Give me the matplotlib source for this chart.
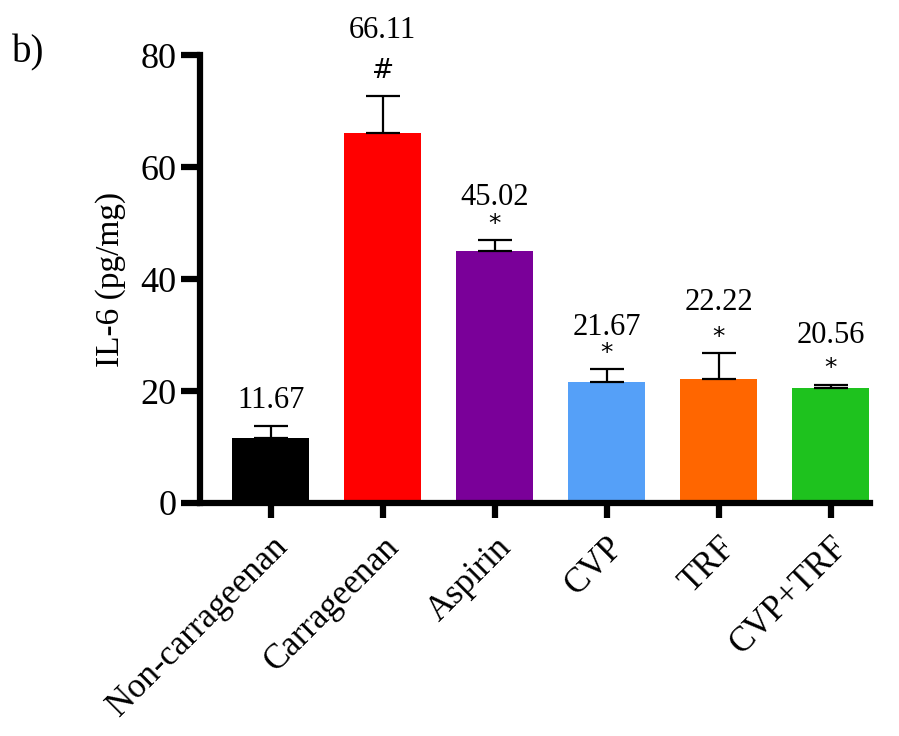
import matplotlib.pyplot as plt

# IL-6 levels per treatment group (mean, SEM)
groups = ["Non-carrageenan", "Carrageenan", "Aspirin", "CVP", "TRF", "CVP+TRF"]
il6_mean = [11.67, 66.11, 45.02, 21.67, 22.22, 20.56]
il6_sem = [2.1, 6.6, 2.0, 2.2, 4.6, 0.6]
signif = ["", "#", "*", "*", "*", "*"]
bar_colors = ["#000000", "#FF0000", "#7A0099", "#55A0F8", "#FF6600", "#1EC21E"]

plt.rcParams["font.family"] = ["Liberation Serif", "DejaVu Serif"]

fig = plt.figure(figsize=(8.99, 7.36), dpi=100)
ax = fig.add_axes([0.2225, 0.3166, 0.745, 0.6084])

x = list(range(len(groups)))
ax.bar(x, il6_mean, width=0.69, color=bar_colors, zorder=2)
ax.errorbar(x, il6_mean, yerr=[[0] * len(x), il6_sem], fmt="none",
            ecolor="black", elinewidth=1.6, capsize=12.5, capthick=1.6, zorder=3)

# significance marks and mean values above each error bar
label_offsets = [8, 37, 20, 20, 26, 25]
for xi, m, s, mark, off in zip(x, il6_mean, il6_sem, signif, label_offsets):
    top = m + s
    if mark:
        ax.annotate(mark, (xi, top), xytext=(0, 3 if mark == "*" else 9),
                    textcoords="offset points", ha="center", va="bottom",
                    fontsize=18 if mark == "*" else 19, family="DejaVu Sans")
    ax.annotate(f"{m:.2f}", (xi, top), xytext=(0, off),
                textcoords="offset points", ha="center", va="bottom",
                fontsize=22)

ax.set_ylim(0, 80)
ax.set_xlim(-0.63, 5.35)
ax.set_yticks([0, 20, 40, 60, 80])
ax.set_xticks(x)
ax.set_xticklabels(groups, rotation=45, ha="right", rotation_mode="anchor",
                   fontsize=25)
ax.tick_params(axis="y", labelsize=26, length=14, width=4.5, pad=3)
ax.tick_params(axis="x", length=11, width=4.5, pad=9)
ax.set_ylabel("IL-6 (pg/mg)", fontsize=24, labelpad=10)

for side in ("top", "right"):
    ax.spines[side].set_visible(False)
for side in ("left", "bottom"):
    ax.spines[side].set_linewidth(4.5)

fig.text(0.013, 0.915, "b)", fontsize=28)

fig.savefig("out.png", dpi=100)
